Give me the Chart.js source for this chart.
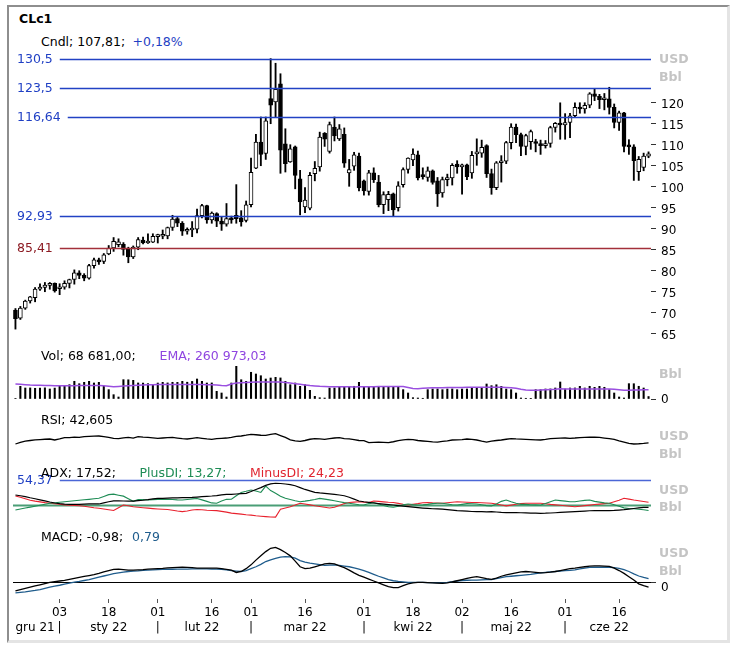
<!DOCTYPE html>
<html><head><meta charset="utf-8">
<script src="https://cdn.jsdelivr.net/npm/chart.js@4.4.0/dist/chart.umd.min.js"></script>
<style>
html,body{margin:0;padding:0;background:#fff;}
#wrap{position:relative;width:737px;height:646px;overflow:hidden;font-family:"DejaVu Sans",Verdana,sans-serif;background:#fff;}
#frame{position:absolute;left:7px;top:5px;width:718px;height:633px;border-top:2px solid #8e8e8e;border-left:2px solid #8e8e8e;border-right:3px solid #e4e4e4;border-bottom:3px solid #e4e4e4;}
canvas{position:absolute;left:0;}
.t{position:absolute;font-size:12.5px;line-height:16px;white-space:pre;color:#000;z-index:5;}
.u{position:absolute;left:659px;font-size:12.5px;font-weight:bold;color:#c4c4c4;line-height:16px;z-index:5;}
</style></head>
<body>
<div id="wrap">
<div id="frame"></div>
<canvas id="cPrice" width="737" height="295" style="top:50px"></canvas>
<canvas id="cVol" width="737" height="47" style="top:360px"></canvas>
<canvas id="cRsi" width="737" height="31" style="top:425px"></canvas>
<canvas id="cAdx" width="737" height="52" style="top:470px"></canvas>
<canvas id="cMacd" width="737" height="106" style="top:540px"></canvas>

<div class="t" style="left:19px;top:11px;font-weight:bold">CLc1</div>
<div class="t" style="left:41px;top:34px">Cndl; 107,81;</div>
<div class="t" style="left:132.5px;top:34px;color:#1f3fc4">+0,18%</div>
<div class="t" style="left:41px;top:347.5px">Vol; 68 681,00;</div>
<div class="t" style="left:159.5px;top:347.5px;color:#8f45e0">EMA; 260 973,03</div>
<div class="t" style="left:41px;top:412px">RSI; 42,605</div>
<div class="t" style="left:41px;top:464.5px">ADX; 17,52;</div>
<div class="t" style="left:139.5px;top:464.5px;color:#1e8c55">PlusDI; 13,27;</div>
<div class="t" style="left:250px;top:464.5px;color:#e02530">MinusDI; 24,23</div>
<div class="t" style="left:41px;top:528.5px">MACD; -0,98;</div>
<div class="t" style="left:132px;top:528.5px;color:#1f5c8c">0,79</div>

<div class="u" style="top:51px">USD</div>
<div class="u" style="top:69px">Bbl</div>
<div class="u" style="top:366px">Bbl</div>
<div class="u" style="top:428px">USD</div>
<div class="u" style="top:446px">Bbl</div>
<div class="u" style="top:482px">USD</div>
<div class="u" style="top:499px">Bbl</div>
<div class="u" style="top:545px">USD</div>
<div class="u" style="top:563px">Bbl</div>
</div>

<script>
// ---------------- DATA ----------------
const dates = [
'2021-12-20','2021-12-21','2021-12-22','2021-12-23','2021-12-27','2021-12-28','2021-12-29','2021-12-30','2021-12-31',
'2022-01-03','2022-01-04','2022-01-05','2022-01-06','2022-01-07','2022-01-10','2022-01-11','2022-01-12','2022-01-13','2022-01-14',
'2022-01-18','2022-01-19','2022-01-20','2022-01-21','2022-01-24','2022-01-25','2022-01-26','2022-01-27','2022-01-28','2022-01-31',
'2022-02-01','2022-02-02','2022-02-03','2022-02-04','2022-02-07','2022-02-08','2022-02-09','2022-02-10','2022-02-11','2022-02-14',
'2022-02-15','2022-02-16','2022-02-17','2022-02-18','2022-02-22','2022-02-23','2022-02-24','2022-02-25','2022-02-28',
'2022-03-01','2022-03-02','2022-03-03','2022-03-04','2022-03-07','2022-03-08','2022-03-09','2022-03-10','2022-03-11','2022-03-14',
'2022-03-15','2022-03-16','2022-03-17','2022-03-18','2022-03-21','2022-03-22','2022-03-23','2022-03-24','2022-03-25','2022-03-28',
'2022-03-29','2022-03-30','2022-03-31',
'2022-04-01','2022-04-04','2022-04-05','2022-04-06','2022-04-07','2022-04-08','2022-04-11','2022-04-12','2022-04-13','2022-04-14',
'2022-04-18','2022-04-19','2022-04-20','2022-04-21','2022-04-22','2022-04-25','2022-04-26','2022-04-27','2022-04-28','2022-04-29',
'2022-05-02','2022-05-03','2022-05-04','2022-05-05','2022-05-06','2022-05-09','2022-05-10','2022-05-11','2022-05-12','2022-05-13',
'2022-05-16','2022-05-17','2022-05-18','2022-05-19','2022-05-20','2022-05-23','2022-05-24','2022-05-25','2022-05-26','2022-05-27','2022-05-31',
'2022-06-01','2022-06-02','2022-06-03','2022-06-06','2022-06-07','2022-06-08','2022-06-09','2022-06-10','2022-06-13','2022-06-14','2022-06-15','2022-06-16',
'2022-06-17','2022-06-21','2022-06-22','2022-06-23','2022-06-24','2022-06-27'
];

const opens = [
70.6,68.7,71.1,72.8,73.6,75.6,76.0,76.5,77.0,
75.7,76.1,77.0,77.9,79.5,78.9,78.2,81.2,82.6,82.2,
84.0,85.4,86.2,86.3,85.2,83.3,85.6,87.3,86.6,86.8,
88.1,88.2,88.3,90.3,92.4,91.3,89.4,89.7,89.9,93.1,
95.5,92.1,93.6,91.8,91.1,92.4,93.2,92.6,92.0,
95.7,104.4,110.6,107.9,121.0,120.2,124.5,110.2,105.9,109.5,
101.9,95.2,94.9,103.1,104.7,112.7,108.4,114.2,111.4,112.5,
103.3,104.9,107.3,
101.4,98.9,103.3,101.1,95.7,96.9,98.3,95.0,100.5,104.1,
106.4,107.6,102.7,102.2,103.8,101.4,98.5,101.7,102.1,105.4,
104.7,105.2,103.3,107.8,108.0,109.8,103.1,99.8,105.7,106.1,
110.5,114.2,112.4,109.6,110.7,110.5,110.3,109.8,110.3,114.1,115.1,
114.7,115.3,116.9,118.9,118.5,119.4,122.1,121.5,120.7,120.9,118.9,115.3,
117.6,109.6,109.5,103.6,104.6,107.3
];
const highs = [
71.0,71.5,73.0,73.9,76.0,76.9,77.2,77.2,77.1,
76.9,77.6,78.0,80.2,80.0,79.3,81.5,83.0,83.0,84.1,
86.0,87.9,87.6,86.7,85.6,85.9,87.9,88.0,88.8,88.8,
88.7,89.7,90.4,93.2,92.7,91.7,90.2,91.7,94.7,95.8,
95.6,94.0,93.8,92.8,96.0,93.0,100.5,94.3,96.6,
106.8,112.5,116.6,116.6,130.5,129.4,126.9,113.8,110.0,109.7,
103.9,99.8,103.4,106.0,113.0,112.9,115.4,116.6,114.8,114.0,
106.5,108.2,108.0,
101.6,103.9,104.5,102.7,98.8,98.9,98.5,101.2,104.5,106.9,
109.0,108.5,104.5,104.7,104.0,102.2,102.3,103.0,105.5,106.2,
105.4,105.4,108.4,111.4,111.1,110.0,104.2,106.0,107.4,110.8,
115.0,114.9,112.8,112.5,113.5,111.3,111.1,111.0,114.4,115.3,119.98,
117.4,117.5,120.0,120.0,120.0,122.4,123.2,122.0,122.2,123.68,119.7,118.0,
117.7,111.2,110.0,107.2,108.0,108.3
];
const lows = [
66.1,68.4,70.8,72.3,72.6,75.3,75.0,75.6,74.9,
74.3,75.6,75.9,76.8,78.1,77.6,78.0,80.6,81.5,81.7,
83.8,84.6,85.7,83.7,81.9,82.9,85.0,86.4,86.5,86.7,
86.6,87.6,87.6,89.6,90.5,88.4,88.7,88.1,89.0,92.6,
91.3,91.3,90.5,89.6,90.6,91.3,91.3,90.6,91.6,
95.2,104.3,105.0,106.5,115.0,116.6,103.2,103.5,105.8,99.5,
93.3,93.8,94.5,101.4,103.7,109.6,108.0,110.9,111.0,104.6,
100.1,103.9,99.0,
98.0,98.0,101.0,95.2,93.6,94.3,92.9,94.2,99.9,103.2,
105.0,101.6,101.8,101.3,100.6,95.3,97.5,100.2,100.4,103.2,
98.2,101.7,102.0,105.1,107.0,102.2,98.2,99.3,101.1,105.5,
109.0,110.5,107.4,107.6,108.9,108.3,107.7,109.2,109.4,113.0,111.3,
111.3,111.7,116.5,117.5,117.5,118.8,120.5,118.6,118.3,117.3,114.0,113.4,
108.3,107.7,101.5,101.5,103.8,106.9
];
const closes = [
68.6,71.1,72.8,73.8,75.6,76.0,76.6,77.0,75.2,
76.1,77.0,77.9,79.5,78.9,78.2,81.2,82.6,82.1,83.8,
85.4,87.0,86.9,85.1,83.3,85.6,87.4,86.6,86.8,88.2,
88.2,88.3,90.3,92.3,91.3,89.4,89.7,89.9,93.1,95.5,
92.1,93.7,91.8,91.1,92.4,92.1,92.4,91.6,95.7,
103.4,110.6,107.7,115.7,119.4,123.2,108.7,105.5,109.0,102.7,
96.4,96.8,102.7,104.4,111.8,111.3,114.8,112.1,113.8,105.6,
104.1,107.6,99.7,
99.0,103.3,101.7,95.7,98.1,98.2,94.5,100.2,104.1,106.8,
107.8,102.1,102.4,103.8,101.0,98.3,101.7,101.9,105.1,104.7,
105.2,102.4,107.5,108.3,109.4,103.1,99.8,105.7,106.1,110.5,
114.2,112.4,109.6,112.2,113.1,110.3,109.8,110.3,114.1,115.1,114.7,
115.3,116.9,118.9,118.5,119.4,122.1,121.5,120.7,120.9,118.9,115.3,117.6,
109.6,109.5,106.2,106.5,107.3,107.81
];

const volumes = [
11000,356000,308000,310000,300000,305000,312000,280000,306000,355000,
372000,400000,496000,428000,467000,495000,448000,466000,354000,262000,
121000,56000,541000,538000,522000,449000,446000,430000,401000,447000,
466000,450000,468000,465000,494000,470000,492000,560000,495000,448000,
450000,215000,168000,56000,448000,915000,540000,495000,748000,700000,
652000,560000,588000,607000,590000,495000,400000,448000,355000,400000,
243000,75000,36000,28000,308000,310000,327000,336000,355000,356000,
467000,328000,327000,329000,326000,328000,355000,327000,328000,262000,
168000,37000,28000,20000,262000,280000,281000,262000,280000,282000,
262000,280000,281000,308000,310000,307000,420000,373000,400000,355000,
280000,262000,168000,28000,20000,19000,262000,261000,280000,282000,
308000,476000,281000,308000,309000,355000,308000,356000,327000,354000,
328000,262000,168000,56000,28000,430000,428000,356000,308000,68681
];
const volEma = [
420000,410000,400000,390000,385000,383000,380000,376000,374000,373000,
372000,372000,374000,375000,376000,377000,378000,378000,372000,358000,
345000,352000,362000,372000,380000,388000,395000,401000,402000,403000,
404000,405000,405000,406000,406000,405000,405000,406000,404000,402000,
398000,390000,375000,372000,420000,448000,455000,465000,470000,473000,
475000,476000,477000,477000,475000,465000,450000,430000,410000,392000,
375000,365000,355000,350000,346000,344000,342000,341000,340000,339000,
342000,345000,345000,346000,347000,348000,349000,350000,350000,348000,
320000,295000,289000,300000,308000,312000,315000,318000,320000,322000,
324000,325000,326000,327000,327000,327000,330000,330000,329000,328000,
325000,318000,300000,275000,255000,245000,243000,250000,258000,265000,
272000,285000,283000,282000,282000,282000,282000,282000,282000,282000,
281000,279000,270000,258000,245000,248000,252000,255000,258000,260973.03
];

const rsi = [
38.7,44,48,50,52,53,54,54.8,51.6,55,
59,59.5,61,60,62.4,63,63.8,64.5,62.5,60.2,
57,56,58.5,60.2,58,62.4,61,60,58.5,57,
58,59,60.2,58,56,54.8,57,59,57,55,
53.8,56,57,58,60,63,64.5,67,69.9,68.5,
67,66.7,70,72,66,60,52,49,47.3,50,
54,56,55,53.8,56,58,59,56,55,53,
50,49.5,43,44,45,44,43,46,49.5,52,
53.8,53,50,48.4,47,45.5,45,47,49,51.6,
52,53,54.8,53.5,51.6,48,45,48,50,51.6,
54,55.9,55,54.5,53.8,53,52,51.6,53.5,55.9,
57,57.5,58,57,58,59.5,60.2,61,60.5,60.2,
58,56,53.8,49,45,41,38.7,39.5,40.8,42.605
];

const adx = [
34,33,31.8,30.3,29,27.6,26.2,24.6,23.3,22.4,
21.8,21.5,21.4,21.5,21.7,22,22.3,22,23.5,25,
26.2,26.3,26,25.8,25.8,26.4,27,27.8,28.8,29.6,
29.5,29.8,30.1,30.3,30.5,30.6,30.8,31.3,31.8,32.3,
32.7,33.3,34.1,34.9,34.9,35.4,35.9,36.3,38.8,41.5,
44,47,49,49.8,49.5,48.8,48,46.5,44,41.5,
39.5,37.5,36.8,36.3,35.6,34.8,34,33,31,28.5,
26,25,24.2,23.3,22.5,21.8,21.2,20.6,19.9,19.2,
18.5,17.8,17.1,16.5,16,15.6,15.3,15,14.5,13.8,
13.1,12.7,12.3,11.9,11.6,11.6,11.5,11.6,11.2,10.7,
10.4,10.3,10.3,10.2,10.1,9.8,9.6,9.5,9.6,9.9,
10.2,10.6,11,11.3,11.6,12,12.5,12.9,13,13,
13,13,13.3,13.8,14.3,15.1,15.9,16.7,17.3,17.52
];
const plusDI = [
13.9,15.2,16.5,17.8,19,20.3,21.6,23,23.6,24.3,
25,25.6,26.3,27,27.6,28.2,28.9,29.6,32,34.5,
35.2,33.8,32.5,29,25.5,27.8,28,27.4,27.8,28,
28.2,28.3,27.9,27.5,27.3,28,28.8,29.4,27.5,25.5,
23.4,23,26,28.2,28.3,33,37.5,39,40.7,39.5,
37.5,46,40,36.5,32.5,29.6,28,26.3,25,25.8,
26.8,28,29.5,28.5,27.5,26.2,25,23.8,23,22,
21,20.6,22.5,23.8,22,20,18.3,17.5,19,21,
22,21.2,20.6,20.8,21.5,22.5,23,23,22,21,
20.6,21.5,22.5,22.2,22,21,19.8,19.4,22,25.5,
27.3,25,23,21.5,21.5,21,20.8,20.6,22.5,25,
27.3,26.5,25.8,25,25,26,26.8,27.3,25.5,24.5,
23.5,23,21,19,16.8,16,15.5,15,14.2,13.27
];
const minusDI = [
32.7,31,29,27,25.8,24.8,23.8,23,22.3,21.6,
20.8,20.4,20,19.6,19,18,17,16.2,15.2,14.2,
13.2,17,20.6,19.5,18.3,17.6,17,16.4,15.8,15.3,
14.9,14.5,13.5,12.5,11.7,12.6,13.8,14.6,14.2,13.6,
13.2,13,12,11,9.7,9,8.3,7.5,7,6.2,
5.6,5,4.5,4.3,14.8,16.5,18.3,20.5,23,22,
20.8,19.6,18.6,17.5,16.5,17.5,20,22.5,23.9,24.5,
25,24.4,23.9,26,25.5,24.8,24.2,23.9,22.8,21.6,
20.6,21.5,22.5,23.7,23.8,23.4,23.2,23,23.6,24.3,
25,24.6,24.3,24,23.9,23.6,23.3,23,21.8,20.6,
19.5,20.5,21.6,22.5,23,23,23,23,22.2,21.4,
20.8,20.2,19.5,18.9,18.3,19,19.8,20.5,21.2,21.8,
22.5,23,25,27,29.6,28.5,27.3,26.3,25.2,24.23
];

const macd = [
-1.8,-1.5,-1.25,-1.0,-0.75,-0.5,-0.25,0,0.15,0.3,
0.45,0.65,0.85,1.05,1.25,1.45,1.65,1.9,2.2,2.5,
2.75,2.8,2.7,2.6,2.6,2.65,2.7,2.8,2.85,2.9,
2.95,3.05,3.1,3.15,3.2,3.15,3.1,3.0,3.0,3.0,
3.0,3.0,2.9,2.75,2.6,2.1,2.3,2.9,3.7,4.7,
5.6,6.5,7.2,7.4,6.9,6.3,5.6,4.5,3.3,2.9,
3.0,3.3,3.6,3.9,4.0,3.9,3.5,3.1,2.6,2.0,
1.5,1.1,0.7,0.3,-0.1,-0.5,-0.9,-1.1,-1.1,-0.7,
-0.3,-0.1,0,0,-0.05,-0.1,-0.15,-0.2,-0.1,0.1,
0.35,0.6,0.85,1.05,1.2,1.0,0.8,0.65,0.9,1.3,
1.6,1.8,2.0,2.2,2.3,2.2,2.1,2.0,2.05,2.15,
2.3,2.5,2.7,2.9,3.0,3.15,3.3,3.45,3.5,3.5,
3.45,3.4,3.0,2.5,1.9,1.2,0.5,-0.3,-0.7,-0.98
];
const macdSignal = [
-2.2,-2.1,-2.0,-1.85,-1.7,-1.5,-1.25,-1.0,-0.8,-0.6,
-0.35,-0.15,0.05,0.2,0.4,0.6,0.85,1.1,1.35,1.6,
1.85,2.0,2.15,2.3,2.4,2.45,2.55,2.6,2.65,2.7,
2.75,2.77,2.78,2.8,2.8,2.82,2.84,2.85,2.85,2.84,
2.82,2.8,2.75,2.65,2.5,2.4,2.3,2.5,2.9,3.3,
3.8,4.4,4.75,5.05,5.35,5.45,5.4,5.1,4.6,4.3,
4.05,3.9,3.75,3.6,3.65,3.7,3.6,3.45,3.3,3.05,
2.8,2.5,2.1,1.7,1.3,0.95,0.6,0.35,0.2,0.1,
0,0,0,0,-0.05,-0.05,-0.1,-0.1,0,0.15,
0.3,0.4,0.45,0.5,0.5,0.55,0.6,0.6,0.8,1.0,
1.2,1.3,1.4,1.5,1.6,1.7,1.85,2.0,2.1,2.2,
2.3,2.4,2.5,2.55,2.65,2.85,3.0,3.15,3.2,3.2,
3.2,3.2,3.1,2.95,2.7,2.3,1.8,1.35,1.05,0.79
];

const priceTicks = [65,70,75,80,85,90,95,100,105,110,115,120];
const priceLevelsBlue = [130.5, 123.5, 116.64, 92.93];
const priceLevelRed = 85.41;
const adxLevel = 54.37;
const adxBase = 20;
const dayTickDates = ['2022-01-03','2022-01-18','2022-02-01','2022-02-16','2022-03-01','2022-03-16','2022-04-01','2022-04-18','2022-05-02','2022-05-16','2022-06-01','2022-06-16'];
const monthSepDates = ['2022-01-03','2022-02-01','2022-03-01','2022-04-01','2022-05-02','2022-06-01'];
const monthLabelDates = ['2021-12-27','2022-01-18','2022-02-14','2022-03-16','2022-04-18','2022-05-16','2022-06-14'];
const monthNames = ['gru 21','sty 22','lut 22','mar 22','kwi 22','maj 22','cze 22'];

// ---------------- CHARTS ----------------
const FAM = '"DejaVu Sans", Verdana, sans-serif';
Chart.defaults.font.family = FAM;
Chart.defaults.font.size = 12;
Chart.defaults.color = '#000';
Chart.defaults.animation = false;
Chart.defaults.events = [];
Chart.defaults.plugins.legend.display = false;
Chart.defaults.plugins.tooltip.enabled = false;

const fmt = v => String(v).replace('.', ',');

function drawLevels(chart, list){
  const {ctx, chartArea:a} = chart; const y = chart.scales.y;
  ctx.save();
  ctx.font = '12.5px ' + FAM;
  ctx.textBaseline = 'middle';
  ctx.textAlign = 'left';
  list.forEach(it => {
    const py = Math.round(y.getPixelForValue(it.value)) + 0.5;
    let x0 = a.left;
    if (it.label) {
      ctx.fillStyle = it.labelColor;
      ctx.fillText(it.label, 17, py + 0.5);
      x0 = 17 + ctx.measureText(it.label).width + 7;
    }
    ctx.strokeStyle = it.color; ctx.lineWidth = it.width || 1.4;
    ctx.beginPath(); ctx.moveTo(x0, py); ctx.lineTo(a.right, py); ctx.stroke();
  });
  ctx.restore();
}
function levels(items){
  return {
    id: 'levels',
    beforeDatasetsDraw(chart){ drawLevels(chart, items.filter(i => i.under)); },
    afterDatasetsDraw(chart){ drawLevels(chart, items.filter(i => !i.under)); }
  };
}

const xHidden = () => ({type:'category', offset:true, display:false});
function yRight(min, max, tickVals, labelOffset){
  return {
    position:'right', min, max,
    afterFit(s){ s.width = 86; s.paddingTop = 0; s.paddingBottom = 0; },
    afterBuildTicks(s){ s.ticks = tickVals.map(v => ({value:v})); },
    grid:{display:true, drawOnChartArea:false, drawTicks:true, tickLength:5, tickColor:'#333', lineWidth:1},
    border:{display:false},
    ticks:{padding:5, labelOffset:labelOffset || 0, color:'#000', font:{size:12, family:FAM}, callback: v => String(v)}
  };
}
const yHidden = (min, max) => ({display:false, min, max});

// Price (candles)
new Chart(document.getElementById('cPrice'), {
  type:'bar',
  data:{labels:dates, datasets:[
    {data: opens.map((o,i) => [o, closes[i]]),
     backgroundColor: opens.map((o,i) => closes[i] >= o ? '#ffffff' : '#000000'),
     borderColor:'#000', borderWidth:1, borderSkipped:false, barThickness:4, minBarLength:2, grouped:false, order:0},
    {data: lows.map((l,i) => [l, highs[i]]), backgroundColor:'#000', borderWidth:0, barThickness:1.2, grouped:false, order:1}
  ]},
  options:{responsive:false, layout:{padding:{left:13, right:0, top:0, bottom:0}},
    scales:{x:xHidden(), y:yRight(62.315, 132.553, priceTicks, 2)}},
  plugins:[levels([
    ...priceLevelsBlue.map(v => ({value:v, label:fmt(v), color:'#2242c4', labelColor:'#1f3fc4', width:1.4})),
    {value:priceLevelRed, label:fmt(priceLevelRed), color:'#a3303a', labelColor:'#8c1a22', width:1.4}
  ])]
});

// Volume
new Chart(document.getElementById('cVol'), {
  type:'bar',
  data:{labels:dates, datasets:[
    {type:'line', data:volEma, borderColor:'#9a4fe0', borderWidth:1.5, pointRadius:0, tension:0, order:0},
    {data:volumes, backgroundColor:'#000', barThickness:1.4, order:1}
  ]},
  options:{responsive:false, layout:{padding:{left:13, right:0, top:0, bottom:8}},
    scales:{x:xHidden(), y:yRight(0, 1092000, [0], 1)}}
});

// RSI
new Chart(document.getElementById('cRsi'), {
  type:'line',
  data:{labels:dates, datasets:[
    {data:rsi, borderColor:'#000', borderWidth:1.3, pointRadius:0, tension:0}
  ]},
  options:{responsive:false, layout:{padding:{left:13, right:86, top:0, bottom:0}},
    scales:{x:xHidden(), y:yHidden(0, 100)}}
});

// ADX
new Chart(document.getElementById('cAdx'), {
  type:'line',
  data:{labels:dates, datasets:[
    {data:adx, borderColor:'#000', borderWidth:1.2, pointRadius:0, tension:0},
    {data:plusDI, borderColor:'#1e8c55', borderWidth:1.1, pointRadius:0, tension:0},
    {data:minusDI, borderColor:'#e8222e', borderWidth:1.1, pointRadius:0, tension:0}
  ]},
  options:{responsive:false, layout:{padding:{left:13, right:86, top:0, bottom:0}},
    scales:{x:xHidden(), y:yHidden(-2.21, 67.59)}},
  plugins:[levels([
    {value:adxBase, color:'#4a9e76', width:2, under:true},
    {value:adxLevel, label:fmt(adxLevel), color:'#4a66d6', labelColor:'#1f3fc4', width:1.3, under:true}
  ])]
});

// MACD + time axis
const dayIdx = dayTickDates.map(d => dates.indexOf(d));
const sepIdx = monthSepDates.map(d => dates.indexOf(d));
const lblIdx = monthLabelDates.map(d => dates.indexOf(d));
const monthIdx = [...sepIdx, ...lblIdx].sort((a,b) => a-b);
new Chart(document.getElementById('cMacd'), {
  type:'line',
  data:{labels:dates, datasets:[
    {data:macd, borderColor:'#000', borderWidth:1.3, pointRadius:0, tension:0},
    {data:macdSignal, borderColor:'#1f5c8c', borderWidth:1.3, pointRadius:0, tension:0}
  ]},
  options:{responsive:false, layout:{padding:{left:13, right:0, top:0, bottom:11}},
    scales:{
      x:{type:'category', offset:true, position:'bottom',
        afterFit(s){ s.height = 22; s.paddingLeft = 0; s.paddingRight = 0; },
        afterBuildTicks(s){ s.ticks = dayIdx.map(i => ({value:i})); },
        grid:{display:true, drawOnChartArea:false, drawTicks:true, tickLength:4, tickColor:'#555'},
        border:{display:false},
        ticks:{autoSkip:false, maxRotation:0, padding:3, color:'#000', font:{size:12, family:FAM},
          callback: v => dates[v].slice(8)}},
      x2:{type:'category', offset:true, position:'bottom',
        afterFit(s){ s.height = 14; s.paddingLeft = 0; s.paddingRight = 0; },
        afterBuildTicks(s){ s.ticks = monthIdx.map(i => ({value:i})); },
        grid:{display:false, drawTicks:false},
        border:{display:false},
        ticks:{autoSkip:false, maxRotation:0, padding:0, color:'#000', font:{size:12, family:FAM},
          callback: v => sepIdx.includes(v) ? '|' : monthNames[lblIdx.indexOf(v)]}},
      y:yRight(-3.50, 8.945, [0], 5)
    }},
  plugins:[levels([{value:0, color:'#000', width:1.2, under:true}])]
});
</script>
</body></html>
